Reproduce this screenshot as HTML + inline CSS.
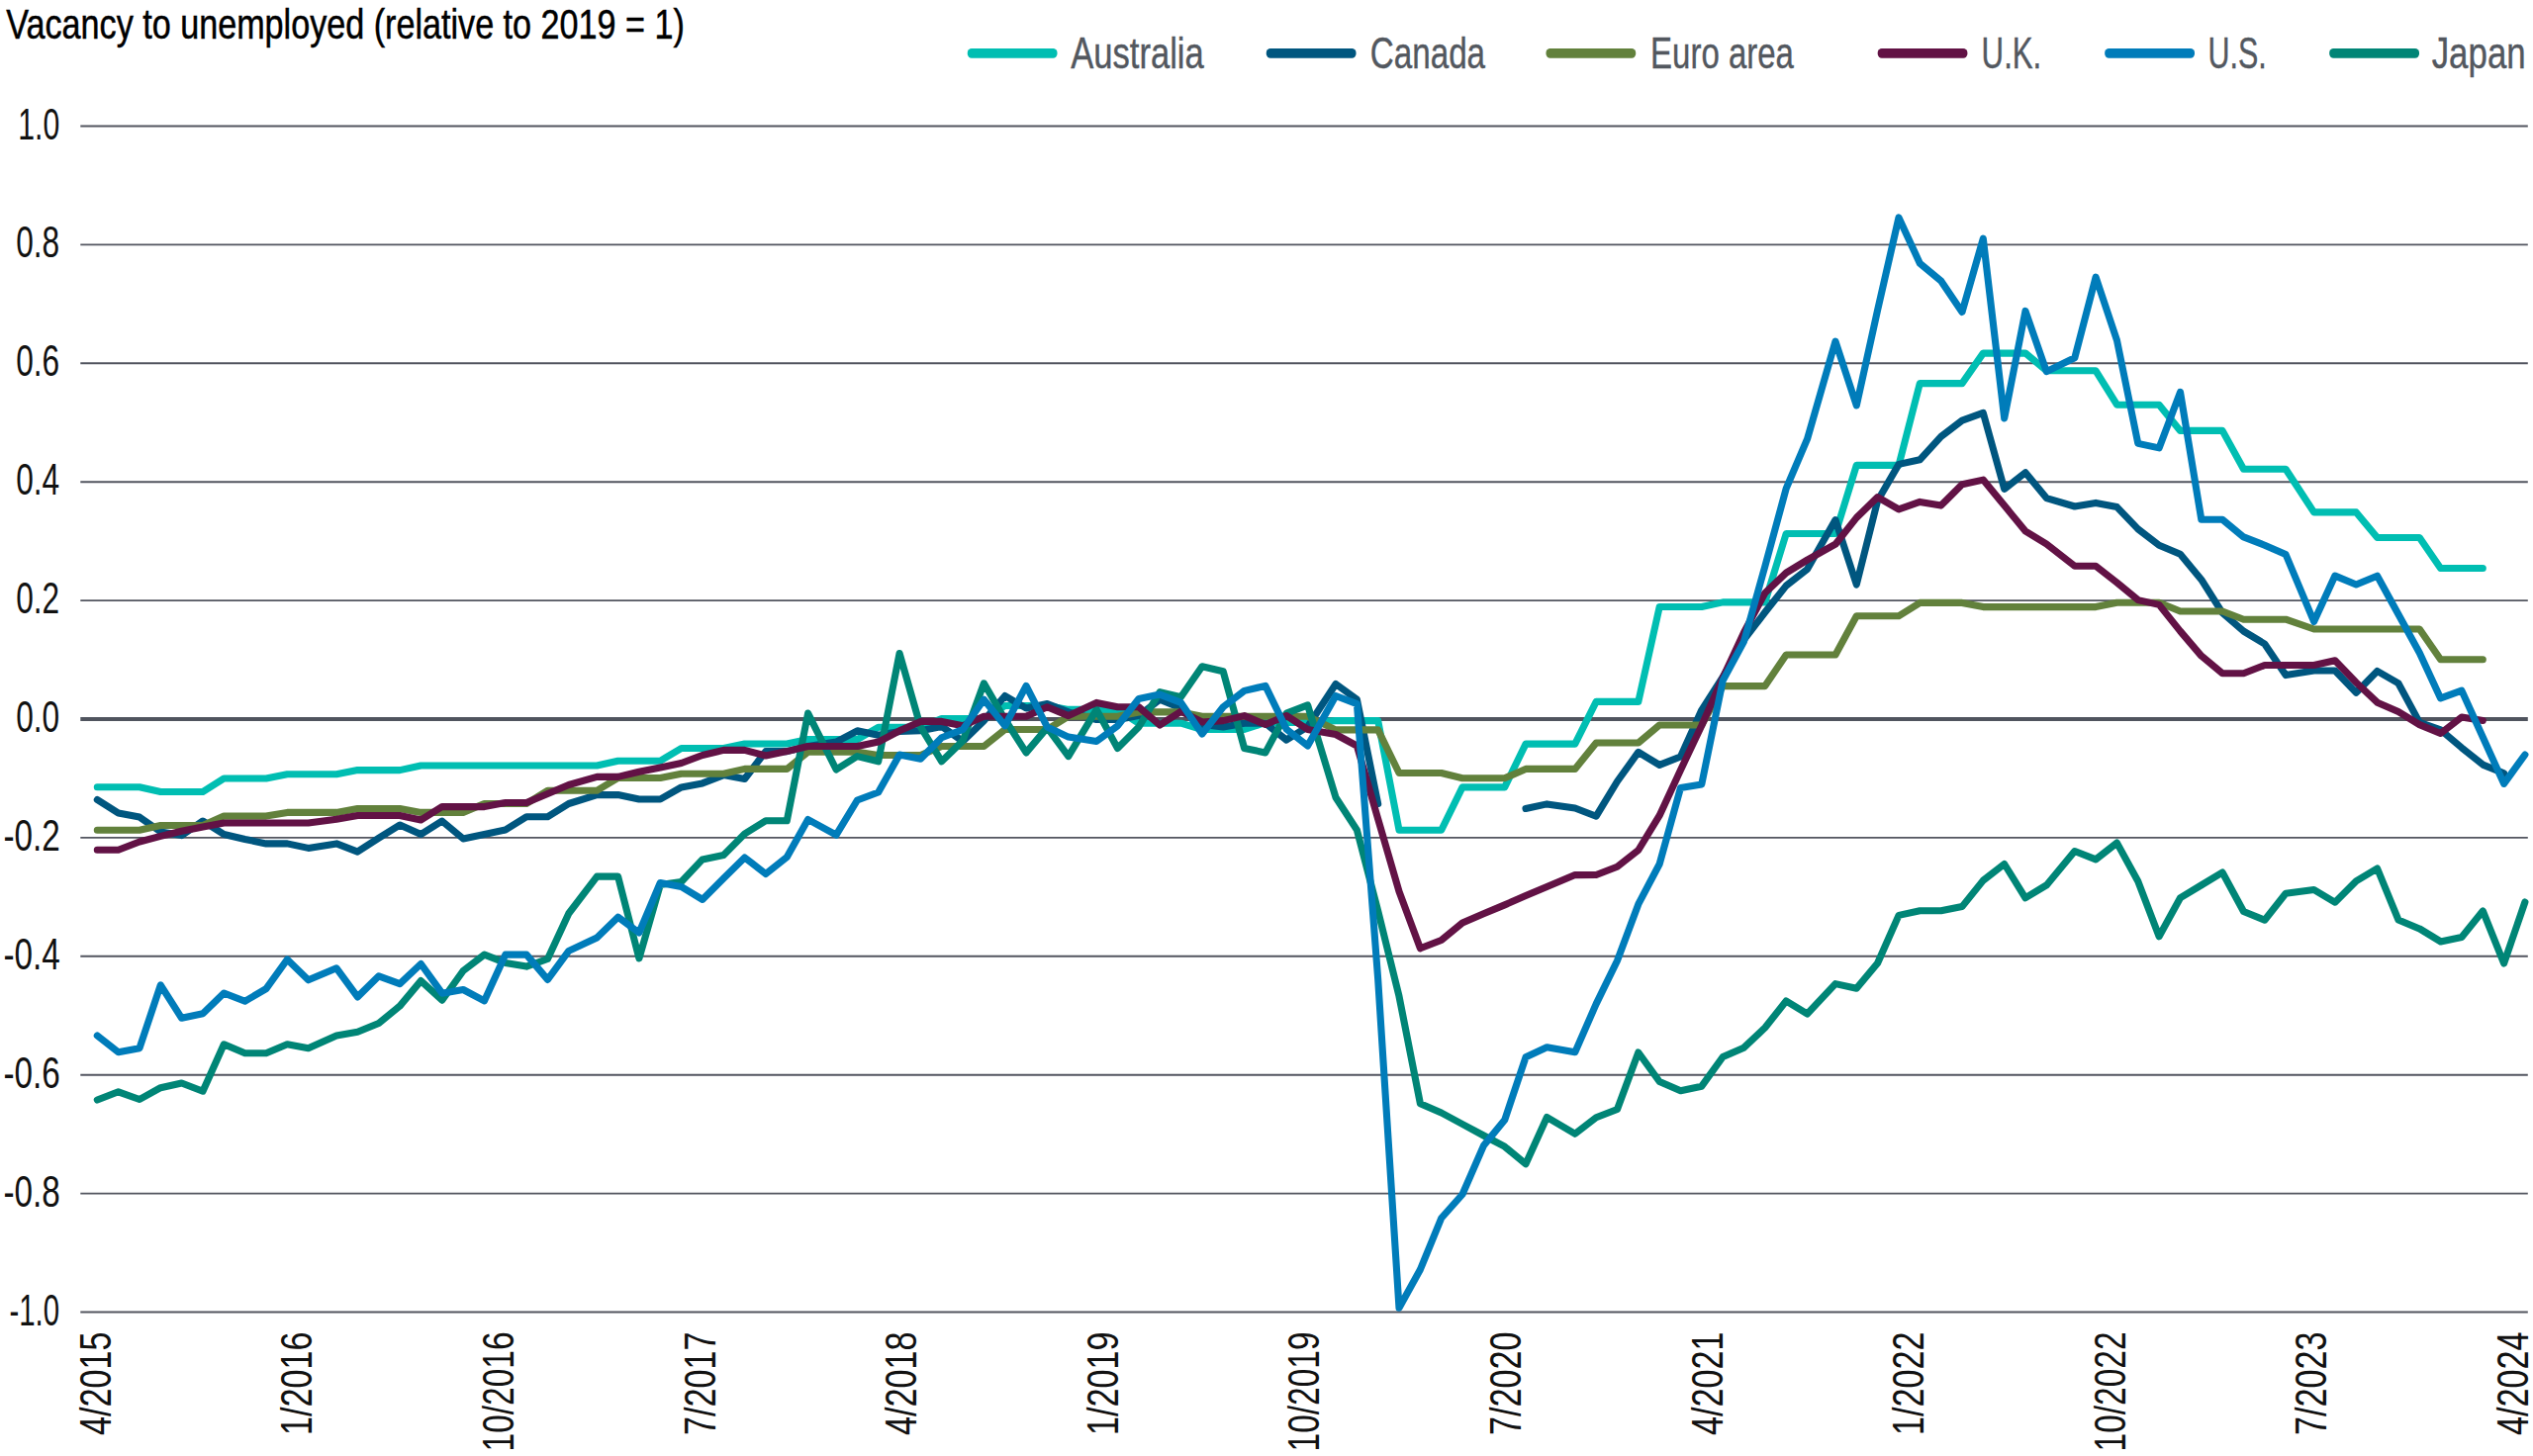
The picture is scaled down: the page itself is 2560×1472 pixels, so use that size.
<!DOCTYPE html>
<html lang="en"><head><meta charset="utf-8"><title>Vacancy to unemployed</title>
<style>
html,body{margin:0;padding:0;background:#fff;}
body{width:2560px;height:1472px;overflow:hidden;}
svg{display:block;}
text{font-family:"Liberation Sans",sans-serif;}
.ax{font-size:44.5px;fill:#111;}
.lg{font-size:43.8px;fill:#53585f;stroke:#53585f;stroke-width:0.4px;}
.tt{font-size:42.2px;fill:#000;stroke:#000;stroke-width:0.5px;}
</style></head><body>
<svg width="2560" height="1472" viewBox="0 0 2560 1472">
<rect width="2560" height="1472" fill="#fff"/>
<text class="tt" x="6.3" y="38.7" textLength="685.5" lengthAdjust="spacingAndGlyphs">Vacancy to unemployed (relative to 2019 = 1)</text>
<rect x="977.8" y="48.9" width="90.7" height="9.9" rx="4.2" fill="#00beb2"/><text class="lg" x="1082.2" y="69" textLength="134.6" lengthAdjust="spacingAndGlyphs">Australia</text>
<rect x="1279.8" y="48.9" width="90.7" height="9.9" rx="4.2" fill="#00567f"/><text class="lg" x="1384.7" y="69" textLength="116.4" lengthAdjust="spacingAndGlyphs">Canada</text>
<rect x="1562.5" y="48.9" width="90.7" height="9.9" rx="4.2" fill="#62813c"/><text class="lg" x="1668.1" y="69" textLength="144.8" lengthAdjust="spacingAndGlyphs">Euro area</text>
<rect x="1897.7" y="48.9" width="90.7" height="9.9" rx="4.2" fill="#621245"/><text class="lg" x="2002.6" y="69" textLength="60.7" lengthAdjust="spacingAndGlyphs">U.K.</text>
<rect x="2127.2" y="48.9" width="90.8" height="9.9" rx="4.2" fill="#007cba"/><text class="lg" x="2231.6" y="69" textLength="59.2" lengthAdjust="spacingAndGlyphs">U.S.</text>
<rect x="2354.2" y="48.9" width="90.8" height="9.9" rx="4.2" fill="#008576"/><text class="lg" x="2457.7" y="69" textLength="95.0" lengthAdjust="spacingAndGlyphs">Japan</text>
<line x1="81.3" x2="2554.8" y1="1326.50" y2="1326.50" stroke="#52555f" stroke-width="1.9"/>
<line x1="81.3" x2="2554.8" y1="1206.60" y2="1206.60" stroke="#52555f" stroke-width="1.9"/>
<line x1="81.3" x2="2554.8" y1="1086.70" y2="1086.70" stroke="#52555f" stroke-width="1.9"/>
<line x1="81.3" x2="2554.8" y1="966.80" y2="966.80" stroke="#52555f" stroke-width="1.9"/>
<line x1="81.3" x2="2554.8" y1="846.90" y2="846.90" stroke="#52555f" stroke-width="1.9"/>
<line x1="81.3" x2="2554.8" y1="727.00" y2="727.00" stroke="#50545e" stroke-width="4.1"/>
<line x1="81.3" x2="2554.8" y1="607.10" y2="607.10" stroke="#52555f" stroke-width="1.9"/>
<line x1="81.3" x2="2554.8" y1="487.20" y2="487.20" stroke="#52555f" stroke-width="1.9"/>
<line x1="81.3" x2="2554.8" y1="367.30" y2="367.30" stroke="#52555f" stroke-width="1.9"/>
<line x1="81.3" x2="2554.8" y1="247.40" y2="247.40" stroke="#52555f" stroke-width="1.9"/>
<line x1="81.3" x2="2554.8" y1="127.50" y2="127.50" stroke="#52555f" stroke-width="1.9"/>
<text class="ax" x="9.5" y="1339.5" textLength="50.6" lengthAdjust="spacingAndGlyphs">-1.0</text><text class="ax" x="3.5" y="1219.6" textLength="57.4" lengthAdjust="spacingAndGlyphs">-0.8</text><text class="ax" x="3.5" y="1099.7" textLength="57.4" lengthAdjust="spacingAndGlyphs">-0.6</text><text class="ax" x="3.5" y="979.8" textLength="57.4" lengthAdjust="spacingAndGlyphs">-0.4</text><text class="ax" x="3.5" y="859.9" textLength="57.4" lengthAdjust="spacingAndGlyphs">-0.2</text><text class="ax" x="16.2" y="740.0" textLength="44.0" lengthAdjust="spacingAndGlyphs">0.0</text><text class="ax" x="16.2" y="620.1" textLength="44.0" lengthAdjust="spacingAndGlyphs">0.2</text><text class="ax" x="16.2" y="500.2" textLength="44.0" lengthAdjust="spacingAndGlyphs">0.4</text><text class="ax" x="16.2" y="380.3" textLength="44.0" lengthAdjust="spacingAndGlyphs">0.6</text><text class="ax" x="16.2" y="260.4" textLength="44.0" lengthAdjust="spacingAndGlyphs">0.8</text><text class="ax" x="18.2" y="140.5" textLength="42.0" lengthAdjust="spacingAndGlyphs">1.0</text>
<text class="ax" transform="translate(111.8,1346.5) rotate(-90)" text-anchor="end" textLength="104.5" lengthAdjust="spacingAndGlyphs">4/2015</text><text class="ax" transform="translate(315.4,1346.5) rotate(-90)" text-anchor="end" textLength="104.5" lengthAdjust="spacingAndGlyphs">1/2016</text><text class="ax" transform="translate(519.0,1346.5) rotate(-90)" text-anchor="end" textLength="121.0" lengthAdjust="spacingAndGlyphs">10/2016</text><text class="ax" transform="translate(722.6,1346.5) rotate(-90)" text-anchor="end" textLength="104.5" lengthAdjust="spacingAndGlyphs">7/2017</text><text class="ax" transform="translate(926.2,1346.5) rotate(-90)" text-anchor="end" textLength="104.5" lengthAdjust="spacingAndGlyphs">4/2018</text><text class="ax" transform="translate(1129.8,1346.5) rotate(-90)" text-anchor="end" textLength="104.5" lengthAdjust="spacingAndGlyphs">1/2019</text><text class="ax" transform="translate(1333.4,1346.5) rotate(-90)" text-anchor="end" textLength="121.0" lengthAdjust="spacingAndGlyphs">10/2019</text><text class="ax" transform="translate(1537.0,1346.5) rotate(-90)" text-anchor="end" textLength="104.5" lengthAdjust="spacingAndGlyphs">7/2020</text><text class="ax" transform="translate(1740.6,1346.5) rotate(-90)" text-anchor="end" textLength="104.5" lengthAdjust="spacingAndGlyphs">4/2021</text><text class="ax" transform="translate(1944.2,1346.5) rotate(-90)" text-anchor="end" textLength="104.5" lengthAdjust="spacingAndGlyphs">1/2022</text><text class="ax" transform="translate(2147.8,1346.5) rotate(-90)" text-anchor="end" textLength="121.0" lengthAdjust="spacingAndGlyphs">10/2022</text><text class="ax" transform="translate(2351.4,1346.5) rotate(-90)" text-anchor="end" textLength="104.5" lengthAdjust="spacingAndGlyphs">7/2023</text><text class="ax" transform="translate(2555.0,1346.5) rotate(-90)" text-anchor="end" textLength="104.5" lengthAdjust="spacingAndGlyphs">4/2024</text>
<path d="M98.3,795.8 L119.6,795.8 L141.0,795.8 L162.3,800.5 L183.6,800.5 L205.0,800.5 L226.3,787.0 L247.6,787.0 L269.0,787.0 L290.3,782.8 L311.6,782.8 L340.1,782.8 L361.4,778.6 L382.8,778.6 L404.1,778.6 L425.4,774.0 L446.8,774.0 L468.1,774.0 L489.5,774.0 L510.8,774.0 L532.1,774.0 L553.5,774.0 L574.8,774.0 L603.3,774.0 L624.6,769.2 L645.9,769.2 L667.3,769.2 L688.6,756.5 L709.9,756.5 L731.3,756.5 L752.6,752.0 L773.9,752.0 L795.3,752.0 L816.6,747.6 L845.1,747.6 L866.4,747.6 L887.7,735.2 L909.1,735.2 L930.4,735.2 L951.7,726.5 L973.1,726.5 L994.4,726.5 L1015.7,713.5 L1037.1,713.5 L1058.4,713.5 L1079.8,717.4 L1108.2,717.4 L1129.5,717.4 L1150.9,731.2 L1172.2,731.2 L1193.6,731.2 L1214.9,737.5 L1236.2,737.5 L1257.6,737.5 L1278.9,730.5 L1300.2,730.5 L1321.6,730.5 L1350.0,728.6 L1371.4,728.6 L1392.7,728.6 L1414.0,839.2 L1435.4,839.2 L1456.7,839.2 L1478.0,795.9 L1499.4,795.9 L1520.7,795.9 L1542.0,752.1 L1563.4,752.1 L1591.8,752.1 L1613.2,709.4 L1634.5,709.4 L1655.8,709.4 L1677.2,613.5 L1698.5,613.5 L1719.8,613.5 L1741.2,608.9 L1762.5,608.9 L1783.8,608.9 L1805.2,539.5 L1826.5,539.5 L1855.0,539.5 L1876.3,470.4 L1897.6,470.4 L1919.0,470.4 L1940.3,387.6 L1961.7,387.6 L1983.0,387.6 L2004.3,357.1 L2025.7,357.1 L2047.0,357.1 L2068.3,374.8 L2096.8,374.8 L2118.1,374.8 L2139.5,409.2 L2160.8,409.2 L2182.1,409.2 L2203.5,435.4 L2224.8,435.4 L2246.1,435.4 L2267.5,474.2 L2288.8,474.2 L2310.1,474.2 L2338.6,517.9 L2359.9,517.9 L2381.3,517.9 L2402.6,543.5 L2423.9,543.5 L2445.3,543.5 L2466.6,574.5 L2487.9,574.5 L2509.3,574.5" fill="none" stroke="#00beb2" stroke-width="7.1" stroke-linecap="round" stroke-linejoin="round"/>
<path d="M98.3,808.6 L119.6,822.0 L141.0,826.1 L162.3,840.9 L183.6,844.6 L205.0,830.0 L226.3,843.5 L247.6,848.5 L269.0,852.9 L290.3,852.9 L311.6,857.4 L340.1,852.9 L361.4,861.1 L382.8,847.2 L404.1,834.0 L425.4,843.5 L446.8,830.1 L468.1,847.9 L489.5,843.5 L510.8,839.0 L532.1,825.8 L553.5,825.8 L574.8,812.5 L603.3,803.6 L624.6,803.6 L645.9,808.0 L667.3,808.0 L688.6,795.9 L709.9,791.9 L731.3,783.6 L752.6,787.5 L773.9,759.6 L795.3,759.6 L816.6,754.5 L845.1,750.1 L866.4,738.8 L887.7,743.2 L909.1,739.5 L930.4,738.8 L951.7,734.4 L973.1,749.5 L994.4,728.6 L1015.7,703.5 L1037.1,716.0 L1058.4,711.6 L1079.8,719.9 L1108.2,727.5 L1129.5,727.5 L1150.9,723.6 L1172.2,707.2 L1193.6,716.0 L1214.9,732.5 L1236.2,735.0 L1257.6,731.2 L1278.9,731.2 L1300.2,748.1 L1321.6,734.8 L1350.0,691.5 L1371.4,707.2 L1392.7,812.6 M1542.0,817.5 L1563.4,812.9 L1591.8,817.0 L1613.2,825.2 L1634.5,790.0 L1655.8,760.4 L1677.2,773.4 L1698.5,765.0 L1719.8,717.8 L1741.2,684.4 L1762.5,646.9 L1783.8,619.0 L1805.2,592.1 L1826.5,575.5 L1855.0,525.6 L1876.3,591.0 L1897.6,506.2 L1919.0,469.4 L1940.3,464.8 L1961.7,441.4 L1983.0,425.2 L2004.3,417.4 L2025.7,494.4 L2047.0,477.8 L2068.3,503.6 L2096.8,512.0 L2118.1,508.4 L2139.5,512.6 L2160.8,534.9 L2182.1,551.2 L2203.5,560.2 L2224.8,585.9 L2246.1,619.6 L2267.5,638.1 L2288.8,651.0 L2310.1,682.6 L2338.6,678.0 L2359.9,678.0 L2381.3,700.2 L2402.6,678.5 L2423.9,690.8 L2445.3,730.4 L2466.6,737.9 L2487.9,755.9 L2509.3,773.1 L2530.6,781.8" fill="none" stroke="#00567f" stroke-width="7.1" stroke-linecap="round" stroke-linejoin="round"/>
<path d="M98.3,839.2 L119.6,839.2 L141.0,839.2 L162.3,834.5 L183.6,834.5 L205.0,834.5 L226.3,825.1 L247.6,825.1 L269.0,825.1 L290.3,821.4 L311.6,821.4 L340.1,821.4 L361.4,817.5 L382.8,817.5 L404.1,817.5 L425.4,821.4 L446.8,821.4 L468.1,821.4 L489.5,812.5 L510.8,812.5 L532.1,812.5 L553.5,799.2 L574.8,799.2 L603.3,799.2 L624.6,786.5 L645.9,786.5 L667.3,786.5 L688.6,782.2 L709.9,782.2 L731.3,782.2 L752.6,777.4 L773.9,777.4 L795.3,777.4 L816.6,760.2 L845.1,760.2 L866.4,760.2 L887.7,763.5 L909.1,763.5 L930.4,763.5 L951.7,754.5 L973.1,754.5 L994.4,754.5 L1015.7,737.5 L1037.1,737.5 L1058.4,737.5 L1079.8,724.2 L1108.2,724.2 L1129.5,724.2 L1150.9,719.9 L1172.2,719.9 L1193.6,719.9 L1214.9,724.2 L1236.2,724.2 L1257.6,724.2 L1278.9,724.2 L1300.2,724.2 L1321.6,724.2 L1350.0,737.9 L1371.4,737.9 L1392.7,737.9 L1414.0,781.5 L1435.4,781.5 L1456.7,781.5 L1478.0,786.8 L1499.4,786.8 L1520.7,786.8 L1542.0,777.4 L1563.4,777.4 L1591.8,777.4 L1613.2,751.0 L1634.5,751.0 L1655.8,751.0 L1677.2,733.0 L1698.5,733.0 L1719.8,733.0 L1741.2,693.6 L1762.5,693.6 L1783.8,693.6 L1805.2,662.0 L1826.5,662.0 L1855.0,662.0 L1876.3,622.8 L1897.6,622.8 L1919.0,622.8 L1940.3,609.4 L1961.7,609.4 L1983.0,609.4 L2004.3,613.6 L2025.7,613.6 L2047.0,613.6 L2068.3,613.6 L2096.8,613.6 L2118.1,613.6 L2139.5,609.2 L2160.8,609.2 L2182.1,609.2 L2203.5,618.0 L2224.8,618.0 L2246.1,618.0 L2267.5,626.2 L2288.8,626.2 L2310.1,626.2 L2338.6,636.0 L2359.9,636.0 L2381.3,636.0 L2402.6,636.0 L2423.9,636.0 L2445.3,636.0 L2466.6,666.8 L2487.9,666.8 L2509.3,666.8" fill="none" stroke="#62813c" stroke-width="7.1" stroke-linecap="round" stroke-linejoin="round"/>
<path d="M98.3,1112.0 L119.6,1103.8 L141.0,1111.5 L162.3,1099.7 L183.6,1095.0 L205.0,1103.2 L226.3,1055.8 L247.6,1064.7 L269.0,1064.7 L290.3,1055.8 L311.6,1059.7 L340.1,1047.0 L361.4,1043.2 L382.8,1034.5 L404.1,1017.1 L425.4,991.6 L446.8,1011.2 L468.1,981.5 L489.5,965.1 L510.8,973.4 L532.1,977.1 L553.5,969.5 L574.8,923.5 L603.3,886.1 L624.6,886.1 L645.9,968.9 L667.3,894.4 L688.6,891.5 L709.9,868.9 L731.3,864.5 L752.6,843.0 L773.9,829.8 L795.3,829.8 L816.6,721.1 L845.1,778.0 L866.4,764.6 L887.7,769.8 L909.1,660.5 L930.4,735.0 L951.7,769.8 L973.1,748.9 L994.4,690.8 L1015.7,727.5 L1037.1,760.9 L1058.4,735.6 L1079.8,764.6 L1108.2,717.4 L1129.5,756.5 L1150.9,735.0 L1172.2,699.6 L1193.6,704.6 L1214.9,673.8 L1236.2,678.8 L1257.6,756.5 L1278.9,760.9 L1300.2,721.1 L1321.6,712.9 L1350.0,806.2 L1371.4,839.1 L1392.7,920.8 L1414.0,1007.2 L1435.4,1115.7 L1456.7,1125.0 L1478.0,1136.5 L1499.4,1148.0 L1520.7,1159.2 L1542.0,1176.8 L1563.4,1129.5 L1591.8,1146.3 L1613.2,1129.8 L1634.5,1121.5 L1655.8,1064.0 L1677.2,1093.5 L1698.5,1102.8 L1719.8,1098.2 L1741.2,1068.5 L1762.5,1059.2 L1783.8,1039.0 L1805.2,1012.0 L1826.5,1025.0 L1855.0,994.6 L1876.3,999.2 L1897.6,973.8 L1919.0,925.4 L1940.3,920.8 L1961.7,920.8 L1983.0,916.6 L2004.3,890.1 L2025.7,873.5 L2047.0,907.8 L2068.3,894.9 L2096.8,860.5 L2118.1,868.9 L2139.5,852.1 L2160.8,891.0 L2182.1,946.8 L2203.5,907.8 L2224.8,894.9 L2246.1,882.0 L2267.5,921.5 L2288.8,930.2 L2310.1,903.2 L2338.6,899.5 L2359.9,912.2 L2381.3,890.8 L2402.6,878.0 L2423.9,929.9 L2445.3,938.9 L2466.6,951.9 L2487.9,947.5 L2509.3,920.9 L2530.6,974.0 L2551.9,912.0" fill="none" stroke="#008576" stroke-width="7.1" stroke-linecap="round" stroke-linejoin="round"/>
<path d="M98.3,859.2 L119.6,859.2 L141.0,851.0 L162.3,845.4 L183.6,840.2 L205.0,835.9 L226.3,832.0 L247.6,832.0 L269.0,832.0 L290.3,832.0 L311.6,832.0 L340.1,828.2 L361.4,824.5 L382.8,824.5 L404.1,824.5 L425.4,828.9 L446.8,815.6 L468.1,815.6 L489.5,815.6 L510.8,811.5 L532.1,811.5 L553.5,802.4 L574.8,793.5 L603.3,785.4 L624.6,785.4 L645.9,780.2 L667.3,775.9 L688.6,771.5 L709.9,763.5 L731.3,758.4 L752.6,758.4 L773.9,764.0 L795.3,759.6 L816.6,754.5 L845.1,754.5 L866.4,754.5 L887.7,750.1 L909.1,738.8 L930.4,729.4 L951.7,729.4 L973.1,733.8 L994.4,724.2 L1015.7,724.2 L1037.1,724.2 L1058.4,714.8 L1079.8,723.6 L1108.2,710.4 L1129.5,714.8 L1150.9,714.8 L1172.2,733.1 L1193.6,719.2 L1214.9,730.0 L1236.2,728.6 L1257.6,723.6 L1278.9,732.5 L1300.2,723.6 L1321.6,737.5 L1350.0,742.5 L1371.4,754.0 L1392.7,828.0 L1414.0,901.2 L1435.4,958.8 L1456.7,950.5 L1478.0,932.9 L1499.4,923.8 L1520.7,914.9 L1542.0,905.6 L1563.4,896.5 L1591.8,884.6 L1613.2,884.5 L1634.5,876.2 L1655.8,859.5 L1677.2,824.4 L1698.5,778.4 L1719.8,733.5 L1741.2,685.2 L1762.5,639.5 L1783.8,599.5 L1805.2,579.1 L1826.5,566.1 L1855.0,550.2 L1876.3,523.4 L1897.6,502.6 L1919.0,514.9 L1940.3,507.4 L1961.7,511.1 L1983.0,489.8 L2004.3,485.1 L2025.7,511.1 L2047.0,537.0 L2068.3,550.0 L2096.8,572.2 L2118.1,572.2 L2139.5,589.0 L2160.8,606.6 L2182.1,611.4 L2203.5,638.1 L2224.8,663.1 L2246.1,680.8 L2267.5,680.8 L2288.8,672.5 L2310.1,672.5 L2338.6,672.5 L2359.9,667.8 L2381.3,690.0 L2402.6,710.2 L2423.9,719.5 L2445.3,732.6 L2466.6,741.5 L2487.9,725.0 L2509.3,728.4" fill="none" stroke="#621245" stroke-width="7.1" stroke-linecap="round" stroke-linejoin="round"/>
<path d="M98.3,1047.0 L119.6,1063.8 L141.0,1059.7 L162.3,995.9 L183.6,1029.3 L205.0,1024.8 L226.3,1004.0 L247.6,1012.2 L269.0,999.6 L290.3,970.0 L311.6,990.8 L340.1,978.8 L361.4,1007.9 L382.8,986.8 L404.1,994.6 L425.4,974.5 L446.8,1004.2 L468.1,1000.5 L489.5,1011.9 L510.8,965.1 L532.1,965.1 L553.5,990.4 L574.8,961.4 L603.3,948.0 L624.6,927.2 L645.9,943.0 L667.3,892.5 L688.6,896.5 L709.9,909.4 L731.3,887.9 L752.6,867.0 L773.9,883.5 L795.3,866.4 L816.6,828.5 L845.1,844.2 L866.4,809.0 L887.7,801.0 L909.1,763.0 L930.4,767.2 L951.7,745.8 L973.1,737.5 L994.4,707.2 L1015.7,733.8 L1037.1,693.4 L1058.4,735.0 L1079.8,745.1 L1108.2,749.5 L1129.5,733.8 L1150.9,706.5 L1172.2,702.1 L1193.6,710.4 L1214.9,742.0 L1236.2,714.8 L1257.6,698.4 L1278.9,693.4 L1300.2,737.2 L1321.6,754.0 L1350.0,703.5 L1371.4,711.6 L1392.7,990.2 L1414.0,1322.3 L1435.4,1283.5 L1456.7,1231.5 L1478.0,1207.5 L1499.4,1158.3 L1520.7,1132.3 L1542.0,1068.8 L1563.4,1058.8 L1591.8,1063.8 L1613.2,1014.9 L1634.5,971.2 L1655.8,914.2 L1677.2,873.5 L1698.5,796.5 L1719.8,792.9 L1741.2,688.0 L1762.5,648.6 L1783.8,572.6 L1805.2,493.9 L1826.5,443.9 L1855.0,345.1 L1876.3,409.9 L1897.6,313.6 L1919.0,219.9 L1940.3,266.2 L1961.7,283.9 L1983.0,315.4 L2004.3,241.2 L2025.7,422.9 L2047.0,314.4 L2068.3,375.6 L2096.8,361.8 L2118.1,280.1 L2139.5,344.1 L2160.8,448.4 L2182.1,452.9 L2203.5,396.4 L2224.8,525.2 L2246.1,525.2 L2267.5,542.9 L2288.8,551.2 L2310.1,560.5 L2338.6,628.5 L2359.9,582.1 L2381.3,591.0 L2402.6,582.2 L2423.9,621.0 L2445.3,660.0 L2466.6,705.9 L2487.9,698.1 L2509.3,745.2 L2530.6,792.4 L2551.9,763.0" fill="none" stroke="#007cba" stroke-width="7.1" stroke-linecap="round" stroke-linejoin="round"/>
</svg></body></html>
